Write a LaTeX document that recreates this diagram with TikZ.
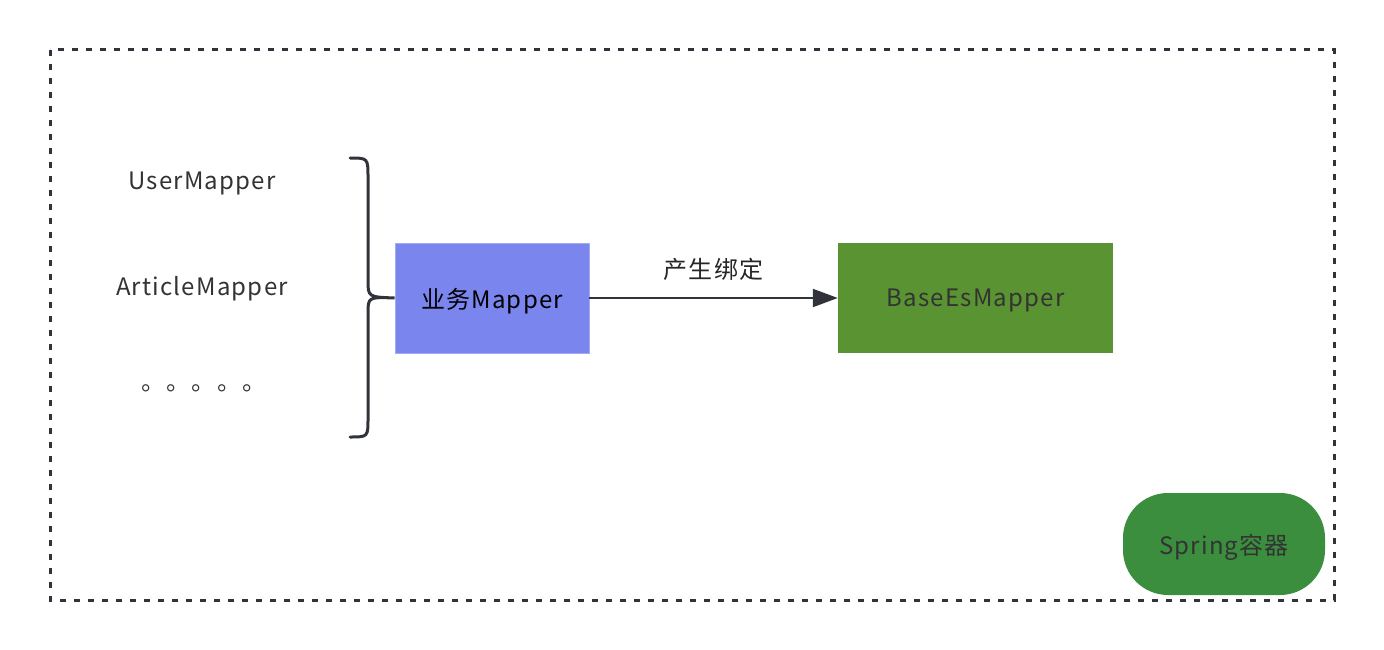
\documentclass[tikz,border=0pt]{standalone}
\usepackage{fontspec}
\setmainfont[LetterSpace=5]{Noto Sans CJK SC}
\usepackage{xcolor}
\usetikzlibrary{arrows.meta, positioning}

\definecolor{bizblue}{HTML}{7B85EE}
\definecolor{bizedge}{HTML}{A3AAF5}
\definecolor{esgreen}{HTML}{5A9331}
\definecolor{springgreen}{HTML}{3A8E3E}
\definecolor{linegray}{HTML}{30343A}
\definecolor{textgray}{HTML}{333333}

\begin{document}
\begin{tikzpicture}[
    x=1pt, y=-1pt,
    label_text/.style={font=\fontsize{24}{28}\selectfont, text=textgray, inner sep=0pt},
    mapper_box/.style={rectangle, minimum height=110pt, inner sep=0pt, text depth=0pt, align=center, font=\fontsize{24}{28}\selectfont},
    arrow/.style={-{Triangle[length=25pt, width=18pt]}, line width=2pt, draw=linegray}
]
\useasboundingbox (0,0) rectangle (1384,650);
\draw[line width=3pt, linegray, dash pattern=on 6pt off 8pt] (50,50) rectangle (1334,600);

\node (user) [label_text] at (202,183) {UserMapper};
\node (article) [label_text] at (202,289) {ArticleMapper};
\node (more) [label_text] at (204,388) {。。。。。};

\node (biz) [mapper_box, fill=bizblue, draw=bizedge, line width=0.8pt, minimum width=194pt, text=black] at (492,298) {业务Mapper};
\node (base) [mapper_box, fill=esgreen, minimum width=275pt, text=textgray] at (975.5,298) {BaseEsMapper};
\node (spring) [rectangle, rounded corners=45pt, fill=springgreen, minimum width=202pt, minimum height=102pt, text depth=0pt, font=\fontsize{24}{28}\selectfont, text=textgray] at (1224,544) {Spring容器};

% brace grouping the mappers
\draw[line width=3pt, linegray, line cap=round]
    (350,158) .. controls (368,158) .. (368,178) -- (368,280)
    .. controls (368,297) .. (biz.west)
    .. controls (368,297) .. (368,314) -- (368,418)
    .. controls (368,437) .. (350,437);

\draw [arrow] (biz) -- node[above=16pt, label_text, text=black!85] {产生绑定} (base);
\end{tikzpicture}
\end{document}
